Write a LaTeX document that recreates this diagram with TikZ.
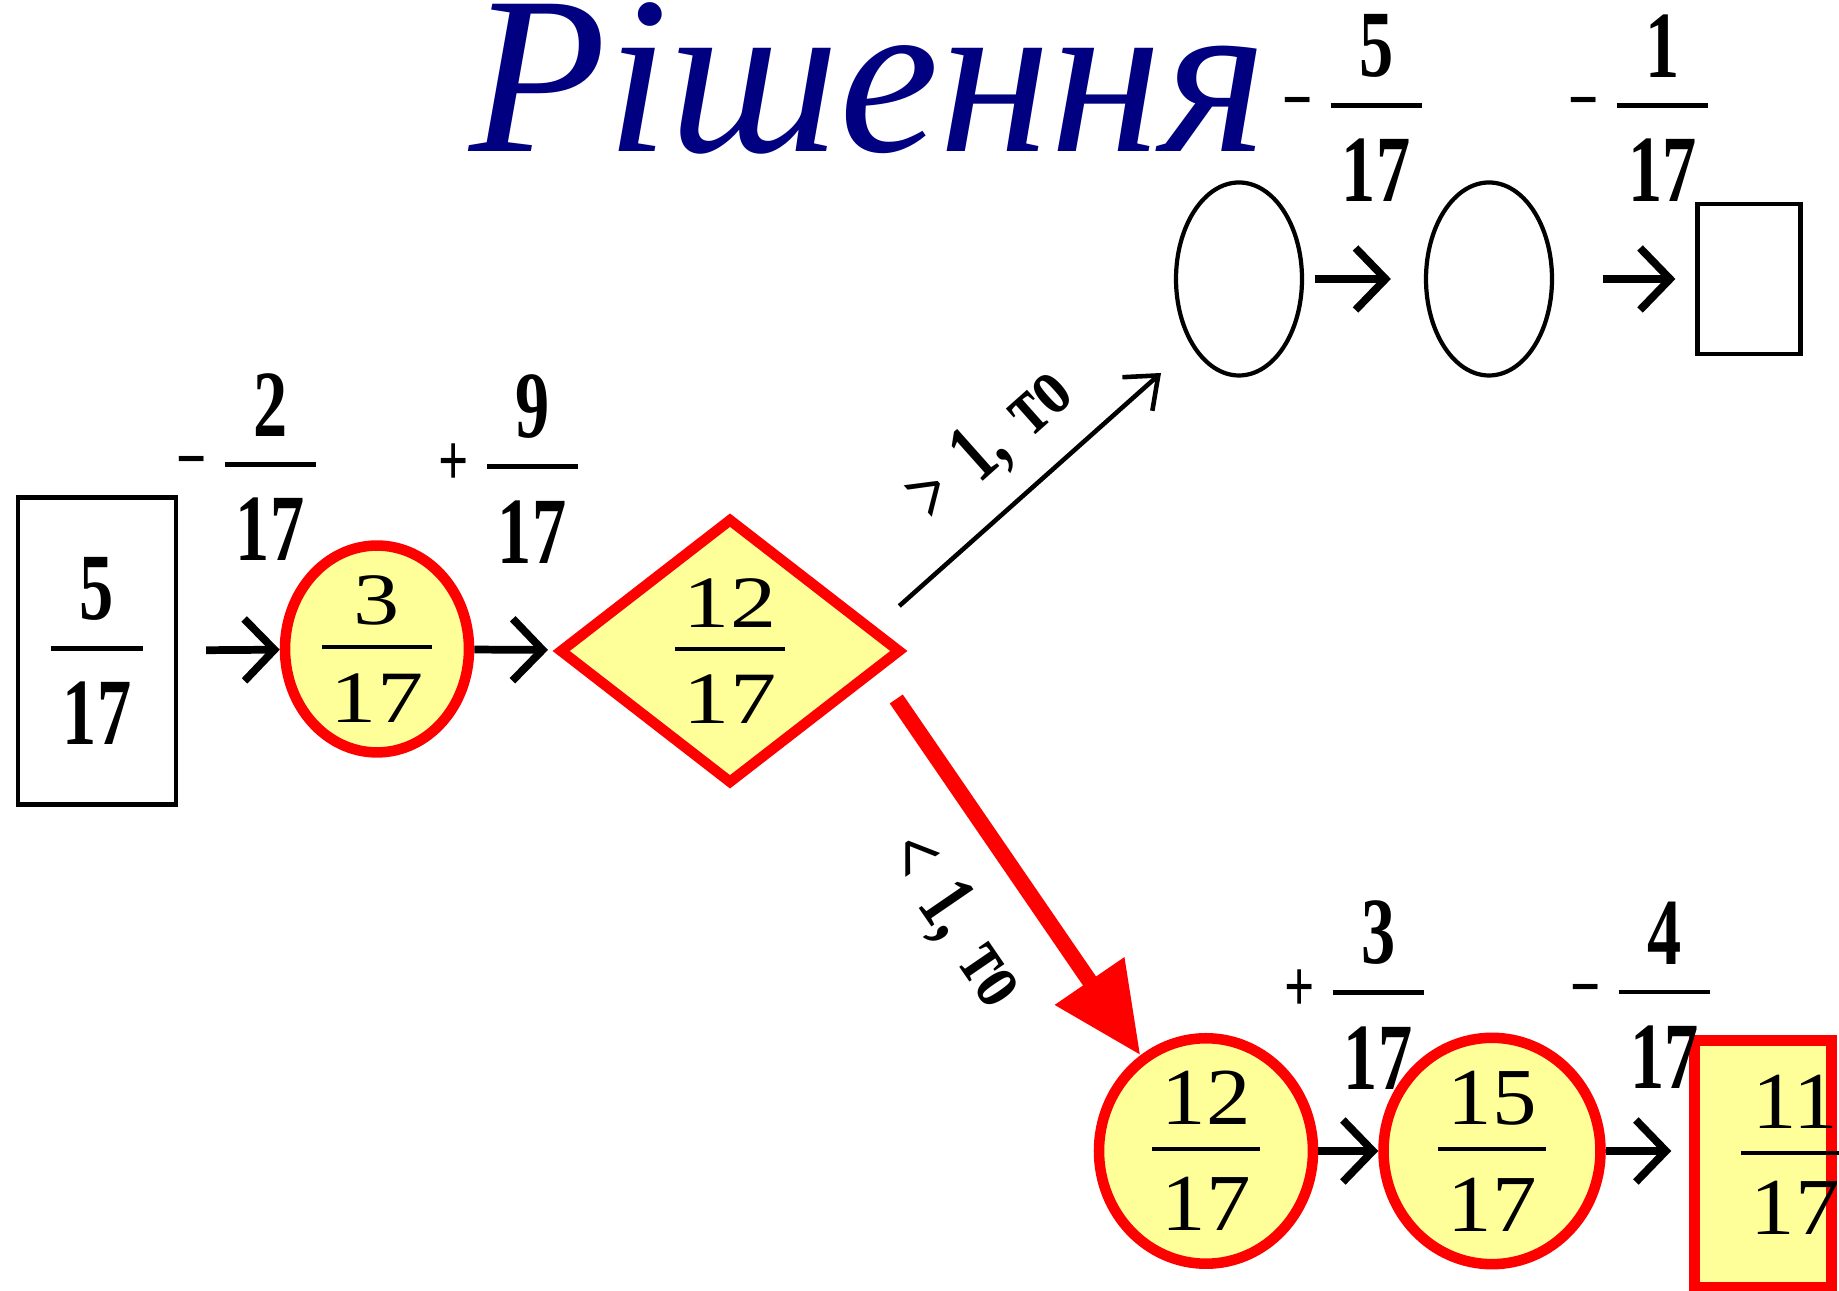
\documentclass[tikz,border=0pt]{standalone}
\usepackage{fontspec}
\setmainfont{Liberation Serif}
\newfontfamily\scanfont{Liberation Serif}[FakeStretch=0.72]
\newfontfamily\titlefont{Liberation Serif}
\newfontfamily\wideserif{Liberation Serif}[FakeStretch=1.25]
\newfontfamily\broadserif{Liberation Serif}[FakeStretch=1.1]
\usepackage{xcolor}
\usepackage{tikz}
\definecolor{notefill}{RGB}{255,255,153}
\definecolor{marker}{RGB}{255,0,0}
\definecolor{titleblue}{RGB}{0,0,128}
\usetikzlibrary{shapes.geometric, arrows.meta, positioning}

% numerator over bar over denominator
\newcommand{\fr}[2]{\ensuremath{\vcenter{\offinterlineskip
  \halign{\hfil\kern.12em##\kern.12em\hfil\cr
    #1\cr
    \noalign{\kern.27em\hrule height .05em\kern.33em}
    #2\cr}}}}
% sign in front of a fraction
\newcommand{\sgn}[1]{\raisebox{.06em}{\fontsize{21}{21}\selectfont #1}\hspace{.18cm}}

\begin{document}
\begin{tikzpicture}[
    frame/.style={draw, line width=1.2pt, inner sep=0pt},
    oval/.style={ellipse, frame},
    hit/.style={fill=notefill, draw=marker, line width=3pt, inner sep=0pt, font=\wideserif\fontsize{21}{23}\selectfont},
    scanlbl/.style={font=\scanfont\bfseries\fontsize{27}{30}\selectfont, inner sep=0pt},
    go/.style={-{Straight Barb[length=0.3cm,width=0.62cm]}, line width=2.2pt},
    branch/.style={-{Straight Barb[length=0.28cm,width=0.45cm]}, line width=1.3pt},
    chosen/.style={-{Triangle[length=0.9cm,width=0.8cm]}, line width=4.5pt, draw=marker}
]
    \useasboundingbox (0,0) rectangle (18.39,12.91);

    \node[font=\titlefont\itshape\fontsize{64}{70}\selectfont, text=titleblue, anchor=base] (title) at (8.68,11.39) {Рішення};

    % main line
    \node[frame, scanlbl, minimum width=1.58cm, minimum height=3.07cm] (start) at (0.97,6.40) {\fr{5}{17}};
    \node[hit, ellipse, minimum width=1.84cm, minimum height=2.04cm] (c3) at (3.77,6.42) {\fr{3}{17}};
    \node[hit, diamond, minimum width=3.42cm, minimum height=2.66cm] (check) at (7.30,6.40) {\fr{12}{17}};

    \node[scanlbl] (sub2) at (2.46,8.24) {\sgn{−}\fr{2}{17}};
    \node[scanlbl] (add9) at (5.08,8.22) {\sgn{+}\fr{9}{17}};

    \draw[go, shorten <=0.28cm] (start) -- (c3);
    \draw[go, shorten >=2pt] (c3) -- (check);

    % upper branch
    \node[oval, minimum width=1.26cm, minimum height=1.93cm] (up1) at (12.39,10.12) {};
    \node[oval, minimum width=1.26cm, minimum height=1.93cm] (up2) at (14.89,10.12) {};
    \node[frame, minimum width=1.03cm, minimum height=1.50cm] (upres) at (17.49,10.12) {};

    \node[scanlbl] (sub5) at (13.52,11.83) {\sgn{−}\fr{5}{17}};
    \node[scanlbl] (sub1) at (16.38,11.83) {\sgn{−}\fr{1}{17}};

    \draw[go, shorten <=0.11cm, shorten >=0.33cm] (up1) -- (up2);
    \draw[go, shorten <=0.49cm, shorten >=0.2cm] (up2) -- (upres);
    \draw[branch] ([shift={(-0.07,0.45)}]check.east) -- ([shift={(-0.78,-0.94)}]up1.center)
        node[midway, sloped, above=0.22cm, scanlbl, font=\scanfont\bfseries\fontsize{24}{26}\selectfont] (more) {>\hspace{.25cm}1,\hspace{.25cm}то};

    % lower branch
    \node[hit, ellipse, minimum width=2.14cm, minimum height=2.20cm, font=\broadserif\fontsize{23}{25}\selectfont] (low1) at (12.06,1.40) {\fr{12}{17}};
    \node[hit, ellipse, minimum width=2.17cm, minimum height=2.20cm, font=\broadserif\fontsize{23}{25}\selectfont] (low2) at (14.92,1.40) {\fr{15}{17}};
    \node[hit, minimum width=1.37cm, minimum height=2.47cm] (lowres) at (17.63,1.27) {};
    \node[inner sep=0pt, font=\broadserif\fontsize{23}{25}\selectfont] (answer) at (17.95,1.36) {\fr{11}{17}};

    \node[scanlbl] (add3) at (13.54,2.96) {\sgn{+}\fr{3}{17}};
    \node[scanlbl] (sub4) at (16.40,2.96) {\sgn{−}\fr{4}{17}};

    \draw[go] (low1) -- (low2);
    \draw[go, shorten >=0.18cm] (low2) -- (low2 -| lowres.west);
    \draw[chosen] ([shift={(-0.10,-0.48)}]check.east) -- (low1)
        node[midway, sloped, below=0.36cm, scanlbl, font=\scanfont\bfseries\fontsize{24}{26}\selectfont] (less) {<\hspace{.25cm}1,\hspace{.25cm}то};
\end{tikzpicture}
\end{document}
